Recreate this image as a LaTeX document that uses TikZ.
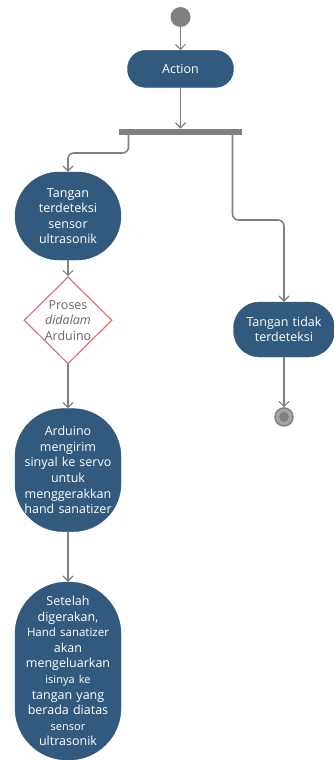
\documentclass[tikz,border=0pt]{standalone}
\usepackage{fontspec}
\setmainfont{Open Sans}
\usetikzlibrary{shapes.geometric, arrows.meta, positioning}
\definecolor{actblue}{HTML}{325A7E}
\definecolor{flowgray}{HTML}{808080}
\definecolor{decred}{HTML}{E0707C}

\begin{document}
\begin{tikzpicture}[
    x=1pt, y=-1pt,
    node distance=20pt,
    action/.style={rectangle, rounded corners=#1, fill=actblue, draw=actblue, text=white, minimum width=106pt, text width=104pt, align=center, inner sep=1pt, font=\fontsize{12.5}{15.6}\selectfont},
    decision/.style={diamond, aspect=1, draw=decred, line width=1.2pt, fill=white, text=black!60, minimum width=88pt, minimum height=87pt, inner sep=0pt, align=center, font=\fontsize{12.5}{15.6}\selectfont},
    forkbar/.style={rectangle, fill=flowgray, minimum width=123pt, minimum height=6pt, inner sep=0pt},
    startdot/.style={circle, fill=flowgray, minimum size=20pt, inner sep=0pt},
    enddot/.style={circle, draw=flowgray, line width=1.5pt, fill=flowgray!70, minimum size=18pt, inner sep=0pt, path picture={\fill[flowgray] (path picture bounding box.center) circle (5pt);}},
    arrow/.style={-{Straight Barb[length=5pt, width=10pt, line width=1.2pt]}, line width=1.6pt, draw=flowgray, rounded corners=6pt}
]
\useasboundingbox (0,0) rectangle (333,760);

\node[startdot] (start) at (180.5,17) {};
\node[action=18pt, minimum height=37pt, below=23pt of start] (act) {Action};
\node[forkbar, below=41pt of act] (fork) {};
\node[action=44pt, minimum height=88pt] (detect) at (68,216) {Tangan\\terdeteksi\\sensor\\ultrasonik};
\node[decision, below=16pt of detect] (proc) {Proses\\\textit{didalam}\\Arduino};
\node[action=48pt, minimum height=123pt, below=44pt of proc] (servo) {Arduino\\mengirim\\sinyal ke servo\\untuk\\menggerakkan\\hand sanatizer};
\node[action=52pt, minimum height=178pt, below=50pt of servo] (spray) {Setelah\\digerakan,\\{\fontsize{11.5}{15.6}\selectfont Hand sanatizer}\\akan\\mengeluarkan\\{\fontsize{11}{15.6}\selectfont isinya ke}\\tangan yang\\berada diatas\\{\fontsize{11}{15.6}\selectfont sensor}\\ultrasonik};
\node[action=26pt, minimum width=101pt, text width=99pt, minimum height=55pt] (nodetect) at (284,329.5) {Tangan tidak\\terdeteksi};
\node[enddot, below=50pt of nodetect] (stop) {};

\draw[arrow] (start) -- (act);
\draw[arrow] (act) -- (fork);
\draw[arrow] ([xshift=-52pt]fork.south) -- ++(0,18) -| (detect.north);
\draw[arrow] ([xshift=52pt]fork.south) -- ++(0,85) -| (nodetect.north);
\draw[arrow] (detect) -- (proc);
\draw[arrow] (proc) -- (servo);
\draw[arrow] (servo) -- (spray);
\draw[arrow] (nodetect) -- (stop);

\end{tikzpicture}
\end{document}
